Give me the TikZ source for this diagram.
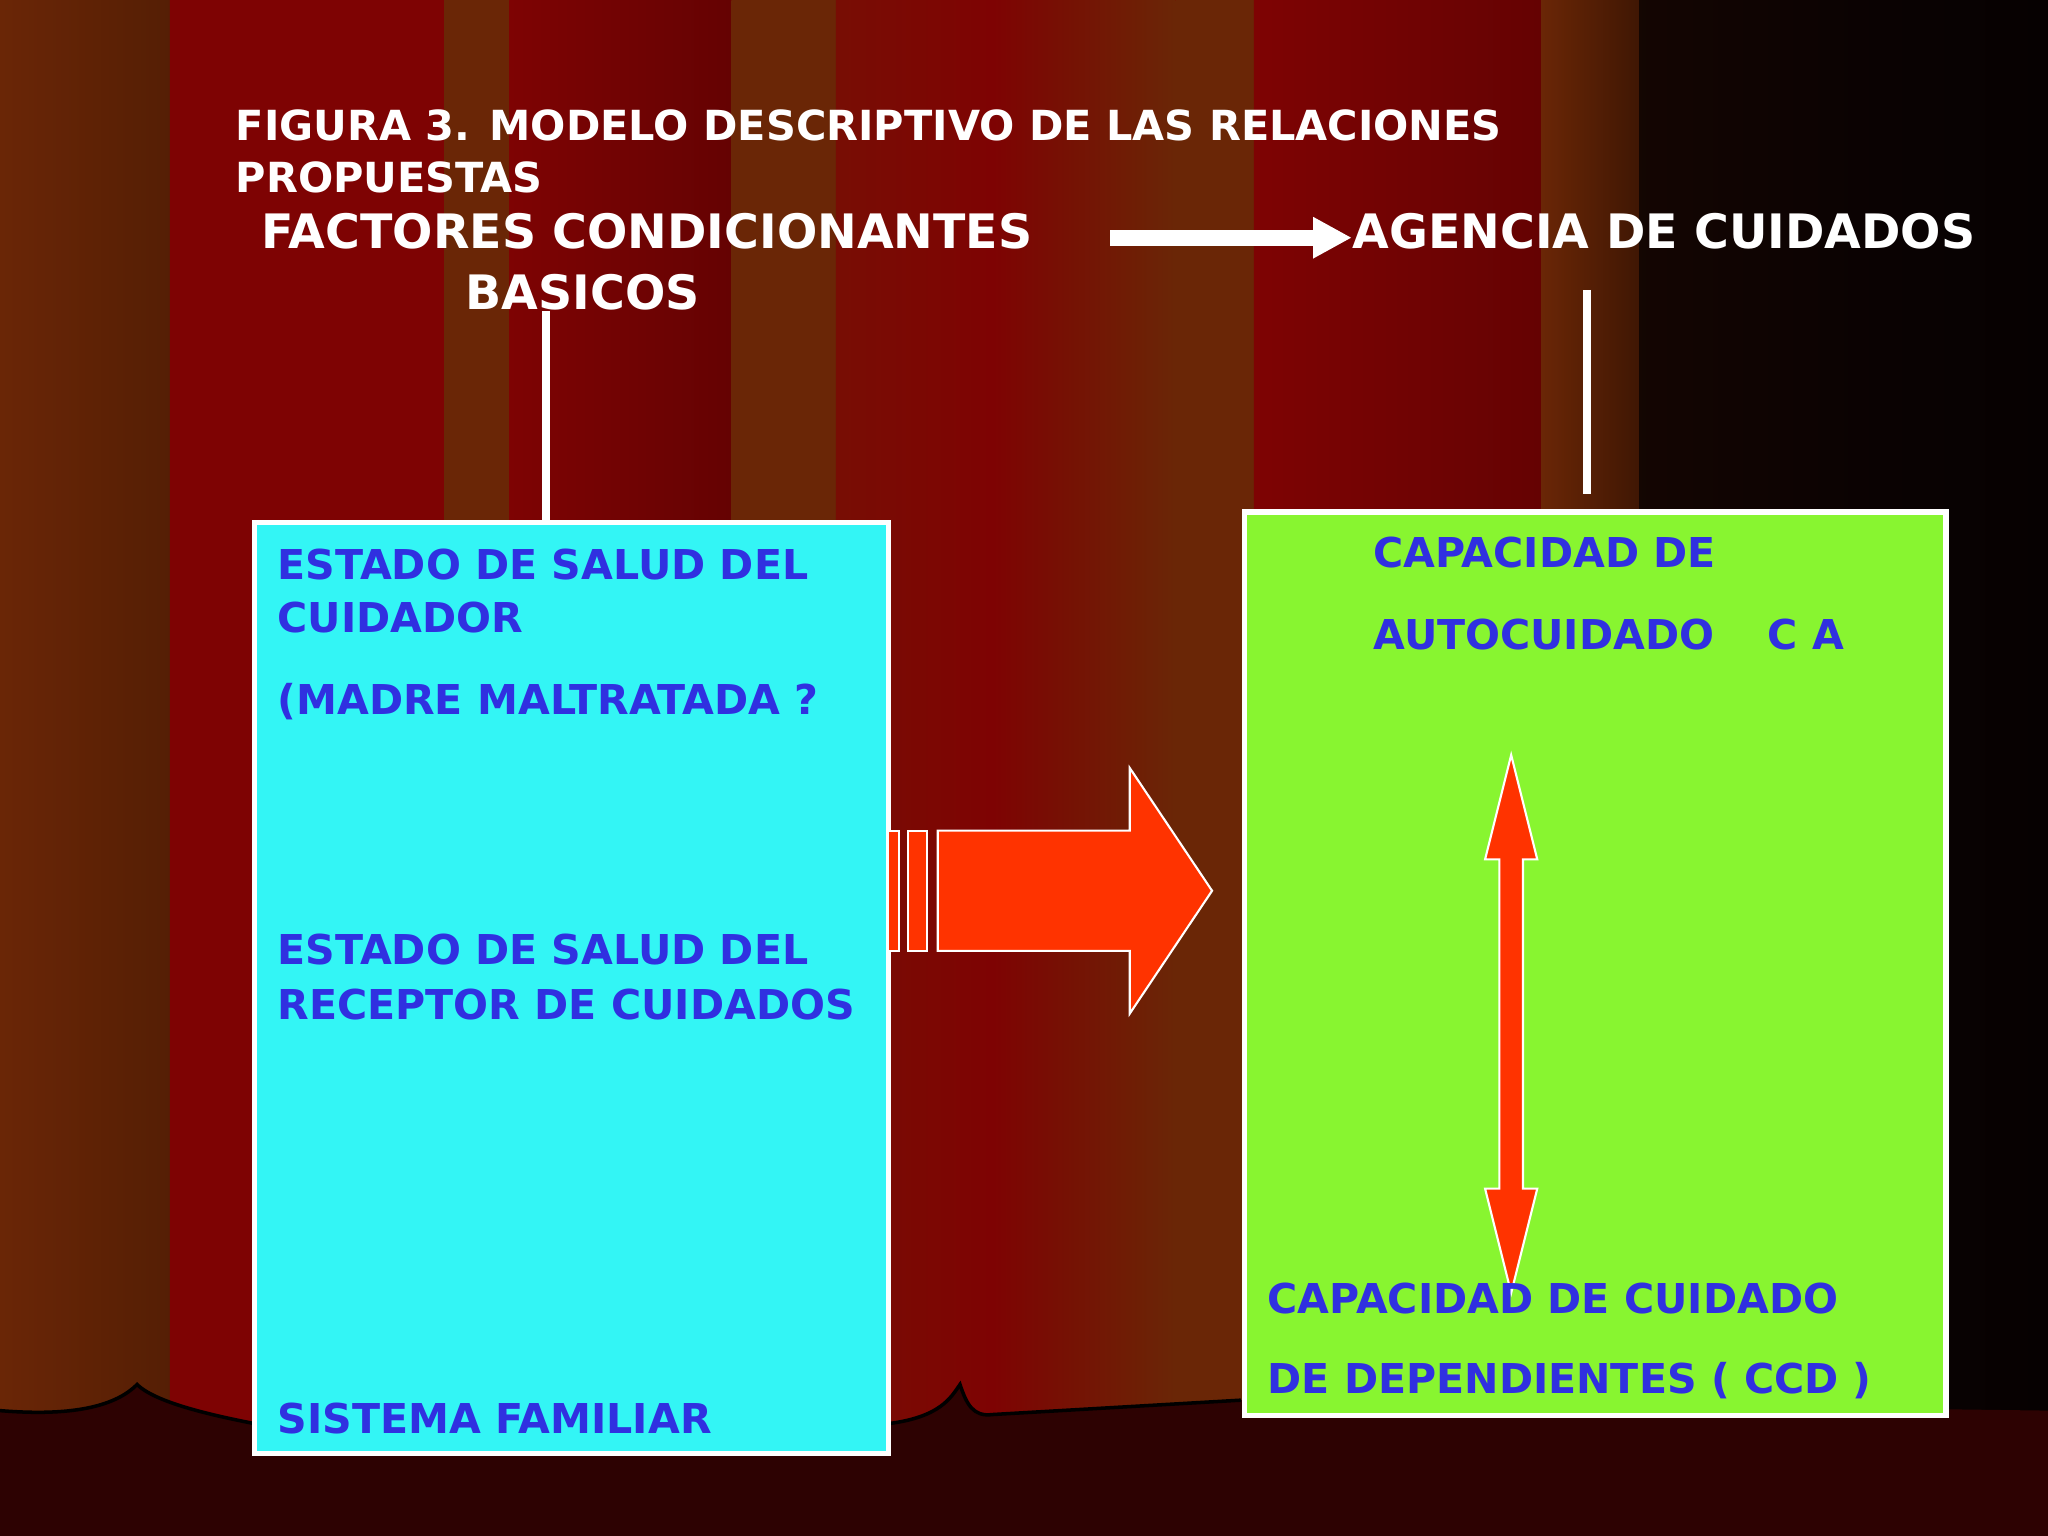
\documentclass[tikz,border=0pt]{standalone}
\usepackage{fontspec}
\usetikzlibrary{arrows.meta,fit}
\setmainfont{DejaVu Sans}
\begin{document}
\begin{tikzpicture}[x=0.013061cm,y=-0.013061cm,
  hd/.style={text=white,font=\bfseries\fontsize{13.5}{16}\selectfont,anchor=west,inner sep=0},
  bt/.style={text=bluet,font=\bfseries\fontsize{11.7}{14}\selectfont,anchor=west,inner sep=0},
  wl/.style={draw=white,line width=2.2pt},
  red/.style={fill=redt,draw=white,line width=0.6pt}]
\definecolor{br}{HTML}{6A2606}\definecolor{rd}{HTML}{7E0303}\definecolor{bk}{HTML}{0A0202}
\definecolor{bluet}{HTML}{3030E0}\definecolor{cyant}{HTML}{33F5F5}\definecolor{greent}{HTML}{88F530}\definecolor{redt}{HTML}{FF3300}
\useasboundingbox (0,0) rectangle (1568,1176);
\fill[rd] (0,0) rectangle (1568,1176);
\foreach \a/\b/\l/\r in {0/130/br/br!80!black,130/340/rd/rd,340/390/br/br,390/560/rd/rd!80!black,560/640/br/br,640/760/rd!70!br/rd,760/900/rd/br,900/960/br/br,960/1180/rd/rd!80!black,1180/1255/br/br!60!black,1255/1440/bk!90!br/bk,1440/1568/bk/bk!60!black}
  \shade[left color=\l,right color=\r] (\a,0) rectangle (\b,1176);
\fill[bk!70!rd] (0,1080) .. controls (60,1085) and (90,1075) .. (105,1060) .. controls (120,1075) and (170,1085) .. (195,1090) -- (680,1090) .. controls (720,1085) and (728,1070) .. (735,1060) .. controls (740,1075) and (745,1085) .. (760,1083) -- (950,1072) -- (1568,1080) -- (1568,1176) -- (0,1176) -- cycle;
\draw[black,line width=1pt] (0,1080) .. controls (60,1085) and (90,1075) .. (105,1060) .. controls (120,1075) and (170,1085) .. (195,1090) (680,1090) .. controls (720,1085) and (728,1070) .. (735,1060) .. controls (740,1075) and (745,1085) .. (760,1083) -- (950,1072);
\node[hd,font=\bfseries\fontsize{11.8}{15}\selectfont,align=left] (title) at (180,116) {FIGURA 3. MODELO DESCRIPTIVO DE LAS RELACIONES\\PROPUESTAS};
\node[hd] (fcb) at (200,177) {FACTORES CONDICIONANTES};
\node[hd] (bas) at (356,224) {BASICOS};
\node[hd] (ag) at (1035,177) {AGENCIA DE CUIDADOS};
\coordinate (a1) at (850,182);
\draw[white,line width=4.5pt,-{Triangle[width=11pt,length=11pt]}] (a1) -- (ag.west|-a1);
\coordinate (c1) at (195,400); \coordinate (c2) at (680,1113);
\coordinate (g1) at (953,392); \coordinate (g2) at (1490,1084);
\fill[cyant,draw=white,line width=1.5pt] (c1) rectangle (c2);
\fill[greent,draw=white,line width=1.5pt] (g1) rectangle (g2);
\node[fit=(c1)(c2),inner sep=0] (cb) {};
\node[fit=(g1)(g2),inner sep=0] (gb) {};
\coordinate (t1) at (418,238); \coordinate (t2) at (1215,222);
\draw[wl] (t1) -- (t1|-cb.north);
\draw[wl] (t2) -- (1215,378);
\fill[red] (680,636) rectangle (688,728);
\fill[red] (695,636) rectangle (710,728);
\fill[red] (718,636) -- (865,636) -- (865,588) -- (928,682) -- (865,776) -- (865,728) -- (718,728) -- cycle;
\fill[red] (1157,578) -- (1177,658) -- (1166,658) -- (1166,910) -- (1177,910) -- (1157,990) -- (1137,910) -- (1148,910) -- (1148,658) -- (1137,658) -- cycle;
\node[bt] at (212,432) {ESTADO DE SALUD DEL};
\node[bt] at (212,473) {CUIDADOR};
\node[bt] at (212,537) {(MADRE MALTRATADA ?};
\node[bt] at (212,727) {ESTADO DE SALUD DEL};
\node[bt] at (212,769) {RECEPTOR DE CUIDADOS};
\node[bt] at (212,1086) {SISTEMA FAMILIAR};
\node[bt] at (1051,423) {CAPACIDAD DE};
\node[bt] at (1051,486) {AUTOCUIDADO\hspace{1.3em}C A};
\node[bt] at (970,994) {CAPACIDAD DE CUIDADO};
\node[bt] at (970,1057) {DE DEPENDIENTES ( CCD )};
\end{tikzpicture}
\end{document}
